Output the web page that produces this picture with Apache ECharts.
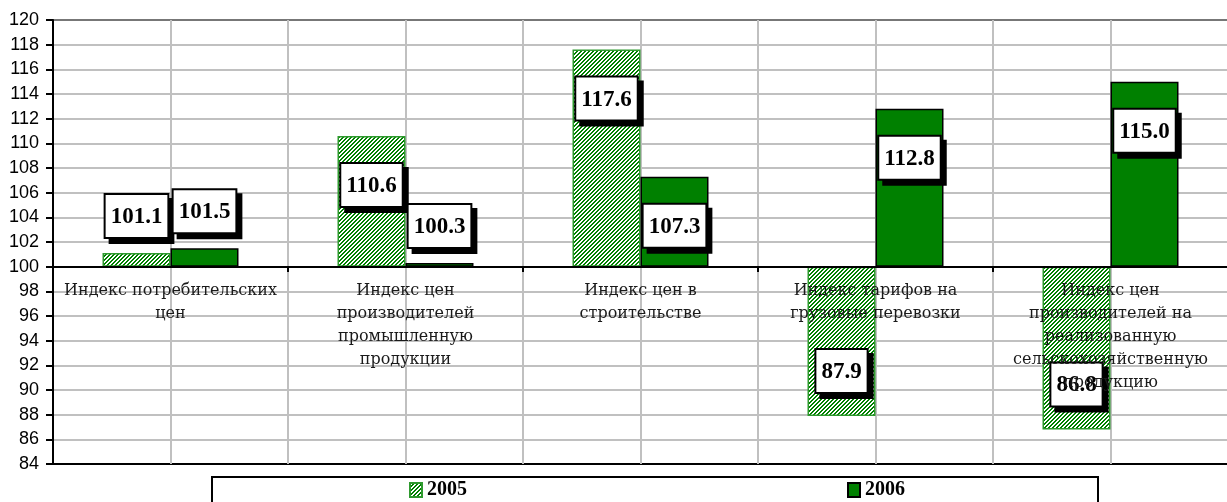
<!DOCTYPE html>
<html>
<head>
<meta charset="utf-8">
<script src="https://cdn.jsdelivr.net/npm/echarts@6/dist/echarts.min.js"></script>
<style>
  html, body { margin: 0; padding: 0; background: #fff; }
  #chart { width: 1227px; height: 502px; }
</style>
</head>
<body>
<div id="chart"></div>
<script>
var categories = [
  'Индекс потребительских цен',
  'Индекс цен производителей промышленную продукции',
  'Индекс цен в строительстве',
  'Индекс тарифов на грузовые перевозки',
  'Индекс цен производителей на реализованную сельскохозяйственную продукцию'
];
var values2005 = [101.1, 110.6, 117.6, 87.9, 86.8];
var values2006 = [101.5, 100.3, 107.3, 112.8, 115.0];
var seriesNames = ['2005', '2006'];
var base = 100;

var chart = echarts.init(document.getElementById('chart'));

// diagonal hatch for 2005
var hatch = document.createElement('canvas');
hatch.width = 4;
hatch.height = 4;
var ctx = hatch.getContext('2d');
ctx.fillStyle = '#ffffff';
ctx.fillRect(0, 0, 4, 4);
ctx.fillStyle = '#008000';
for (var i = 0; i < 4; i++) {
  ctx.fillRect(3 - i, i, 1, 1);
  ctx.fillRect((4 - i) % 4, i, 1, 1);
}

// word wrap for category names, like Excel does
var catFont = '16px "DejaVu Serif"';
var measure = document.createElement('canvas').getContext('2d');
measure.font = catFont;
function wrap(text, maxW) {
  var words = text.split(' ');
  var lines = [];
  var cur = '';
  words.forEach(function (w) {
    var t = cur ? cur + ' ' + w : w;
    if (cur && measure.measureText(t).width > maxW) {
      lines.push(cur);
      cur = w;
    } else {
      cur = t;
    }
  });
  if (cur) lines.push(cur);
  return lines.join('\n');
}

// bars are drawn as offsets from 100 so they grow from the 100 line
function labelPos(v) {
  var d = v - base;
  if (d < 0) return { position: 'insideBottom', distance: 24 };
  if (d > 5) return { position: 'insideTop', distance: 28 };
  return { position: 'top', distance: 16 };
}
function toItems(arr) {
  return arr.map(function (v) {
    return { value: +(v - base).toFixed(1), label: labelPos(v) };
  });
}
function boxLabel(arr) {
  return {
    show: true,
    formatter: function (p) { return arr[p.dataIndex].toFixed(1); },
    fontFamily: 'Liberation Serif',
    fontWeight: 'bold',
    fontSize: 23,
    lineHeight: 24,
    color: '#000',
    backgroundColor: '#fff',
    borderColor: '#000',
    borderWidth: 2,
    padding: [10, 5, 8, 5],
    shadowColor: '#000',
    shadowOffsetX: 5,
    shadowOffsetY: 5,
    shadowBlur: 0
  };
}

var gridColors = [];
for (var k = 0; k <= 18; k++) gridColors.push('#c0c0c0');
gridColors[0] = '#000';
gridColors[18] = '#777';

var option = {
  animation: false,
  // grid 0 holds the bars, grid 1 ends at the 100 line and carries the category axis
  grid: [
    { left: 53, top: 20, width: 1175, height: 444, containLabel: false, outerBoundsMode: 'none' },
    { left: 53, top: 20, width: 1175, height: 247, containLabel: false, outerBoundsMode: 'none' }
  ],
  legend: {
    data: seriesNames,
    top: 477,
    left: 212,
    icon: 'rect',
    itemWidth: 12,
    itemHeight: 14,
    itemGap: 380,
    padding: [3, 193, 20, 197],
    borderColor: '#000',
    borderWidth: 2,
    textStyle: { fontFamily: 'Liberation Serif', fontWeight: 'bold', fontSize: 20, color: '#000' }
  },
  xAxis: [
    {
      type: 'category',
      gridIndex: 0,
      data: categories,
      axisLine: { show: false },
      axisTick: { show: false },
      axisLabel: { show: false },
      splitLine: { show: false }
    },
    {
      type: 'value',
      gridIndex: 0,
      min: 0,
      max: 10,
      interval: 1,
      position: 'bottom',
      axisLine: { show: false, onZero: false },
      axisTick: { show: false },
      axisLabel: { show: false },
      splitLine: { show: true, lineStyle: { color: '#c0c0c0', width: 2 } }
    },
    {
      type: 'category',
      gridIndex: 1,
      z: 10,
      data: categories,
      axisLine: { show: true, onZero: false, lineStyle: { color: '#000', width: 2 } },
      axisTick: { show: true, length: 5, lineStyle: { color: '#000', width: 2 } },
      axisLabel: {
        interval: 0,
        margin: 12,
        formatter: function (v) { return wrap(v, 228); },
        fontFamily: 'DejaVu Serif',
        fontSize: 16,
        lineHeight: 23,
        color: '#1a1a1a'
      },
      splitLine: { show: false }
    }
  ],
  yAxis: [
    {
      type: 'value',
      gridIndex: 0,
      min: -16,
      max: 20,
      interval: 2,
      axisLine: { show: true, onZero: false, lineStyle: { color: '#000', width: 2 } },
      axisTick: { show: true, length: 7, lineStyle: { color: '#000', width: 2 } },
      axisLabel: {
        formatter: function (v) { return String(v + base); },
        fontFamily: 'Liberation Sans',
        fontSize: 18,
        color: '#000',
        margin: 14
      },
      splitLine: { show: true, lineStyle: { color: gridColors, width: 2 } }
    },
    {
      type: 'value',
      gridIndex: 1,
      show: false,
      min: 0,
      max: 1
    }
  ],
  series: [
    {
      name: seriesNames[0],
      type: 'bar',
      xAxisIndex: 0,
      yAxisIndex: 0,
      barWidth: 68,
      barGap: '0%',
      data: toItems(values2005),
      itemStyle: { color: { image: hatch, repeat: 'repeat' }, borderColor: '#2f9a2f', borderWidth: 1.5 },
      label: boxLabel(values2005)
    },
    {
      name: seriesNames[1],
      type: 'bar',
      xAxisIndex: 0,
      yAxisIndex: 0,
      barWidth: 68,
      data: toItems(values2006),
      itemStyle: { color: '#008000', borderColor: '#000', borderWidth: 1.5 },
      label: boxLabel(values2006)
    }
  ]
};

chart.setOption(option);
</script>
</body>
</html>
